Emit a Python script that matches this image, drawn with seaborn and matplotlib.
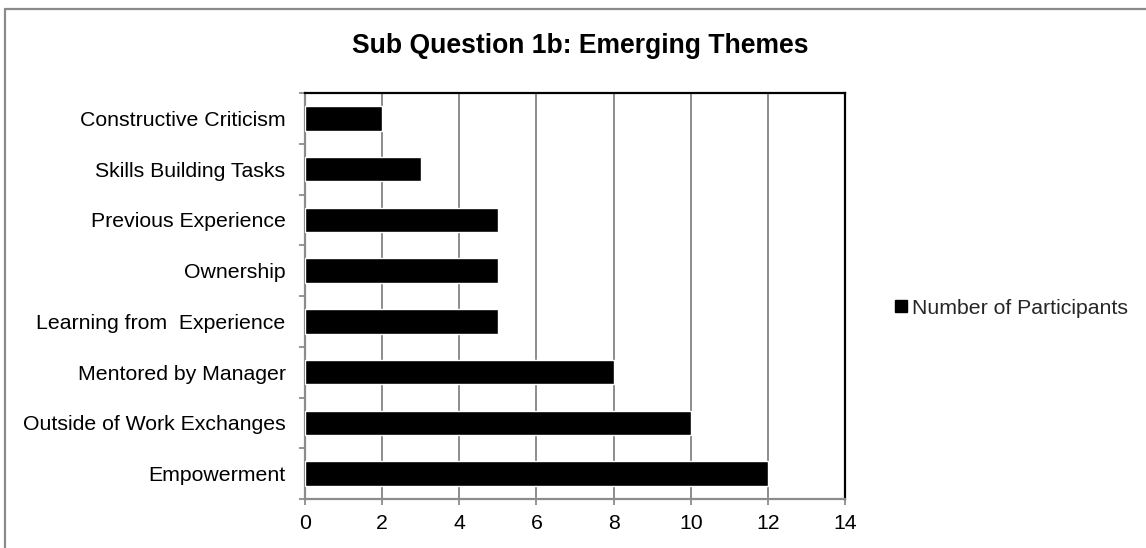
import matplotlib
matplotlib.use("Agg")
import matplotlib.pyplot as plt
import seaborn as sns
import pandas as pd
from matplotlib.lines import Line2D
from matplotlib.patches import Patch
from matplotlib.ticker import FixedLocator

categories = [
    "Constructive Criticism",
    "Skills Building Tasks",
    "Previous Experience",
    "Ownership",
    "Learning from  Experience",
    "Mentored by Manager",
    "Outside of Work Exchanges",
    "Empowerment",
]
participants = [2, 3, 5, 5, 5, 8, 10, 12]
x_ticks = [0, 2, 4, 6, 8, 10, 12, 14]
series_name = "Number of Participants"
title = "Sub Question 1b: Emerging Themes"

sns.set_theme(style="white")
plt.rcParams["font.family"] = ["Liberation Sans", "DejaVu Sans"]

df = pd.DataFrame({"theme": categories, "n": participants})

W, H = 1146, 548
fig = plt.figure(figsize=(W / 100, H / 100), dpi=100)
fig.patch.set_facecolor("white")
ax = fig.add_axes([305 / W, 1 - 499 / H, 540 / W, 406 / H])

sns.barplot(data=df, x="n", y="theme", color="black", saturation=1,
            width=0.48, orient="h", ax=ax, zorder=3)

ax.set_xlim(0, 14)
ax.set_ylim(len(categories) - 0.5, -0.5)
ax.set_xticks(x_ticks)
ax.set_xticklabels([str(t) for t in x_ticks])
ax.set_xlabel("")
ax.set_ylabel("")

grey = "#8c8c8c"
ax.grid(axis="x", color=grey, linewidth=1.4, zorder=0)
ax.grid(axis="y", visible=False)
ax.set_axisbelow(True)

for s in ["top", "right"]:
    ax.spines[s].set_color("black")
    ax.spines[s].set_linewidth(1.6)
for s in ["left", "bottom"]:
    ax.spines[s].set_color(grey)
    ax.spines[s].set_linewidth(1.6)

ax.yaxis.set_minor_locator(FixedLocator([i - 0.5 for i in range(len(categories) + 1)]))
ax.tick_params(axis="y", which="major", length=0, pad=14, labelsize=15.3, labelcolor="black")
ax.tick_params(axis="y", which="minor", left=True, length=4.5, width=1.3, color=grey)
ax.tick_params(axis="x", which="major", bottom=True, length=4.5, width=1.3, color=grey,
               pad=6, labelsize=15.3, labelcolor="black")

fig.text(580 / W, 1 - 53 / H, title, ha="center", va="baseline",
         fontsize=19.1, fontweight="bold", color="black")

handle = Patch(facecolor="black", edgecolor="black", label=series_name)
fig.legend(handles=[handle], loc="center left", bbox_to_anchor=(895 / W, 1 - 308 / H),
           frameon=False, fontsize=15.3, handlelength=0.55, handleheight=0.55,
           handletextpad=0.25, borderpad=0, borderaxespad=0)

# outer chart frame (top and left edges visible)
fig.add_artist(Line2D([5 / W, 5 / W], [0, 1 - 9 / H], transform=fig.transFigure,
                      color="#8a8a8a", linewidth=1.6))
fig.add_artist(Line2D([5 / W, 1], [1 - 9 / H, 1 - 9 / H], transform=fig.transFigure,
                      color="#8a8a8a", linewidth=1.6))

fig.savefig("out.png", dpi=100, facecolor="white")
